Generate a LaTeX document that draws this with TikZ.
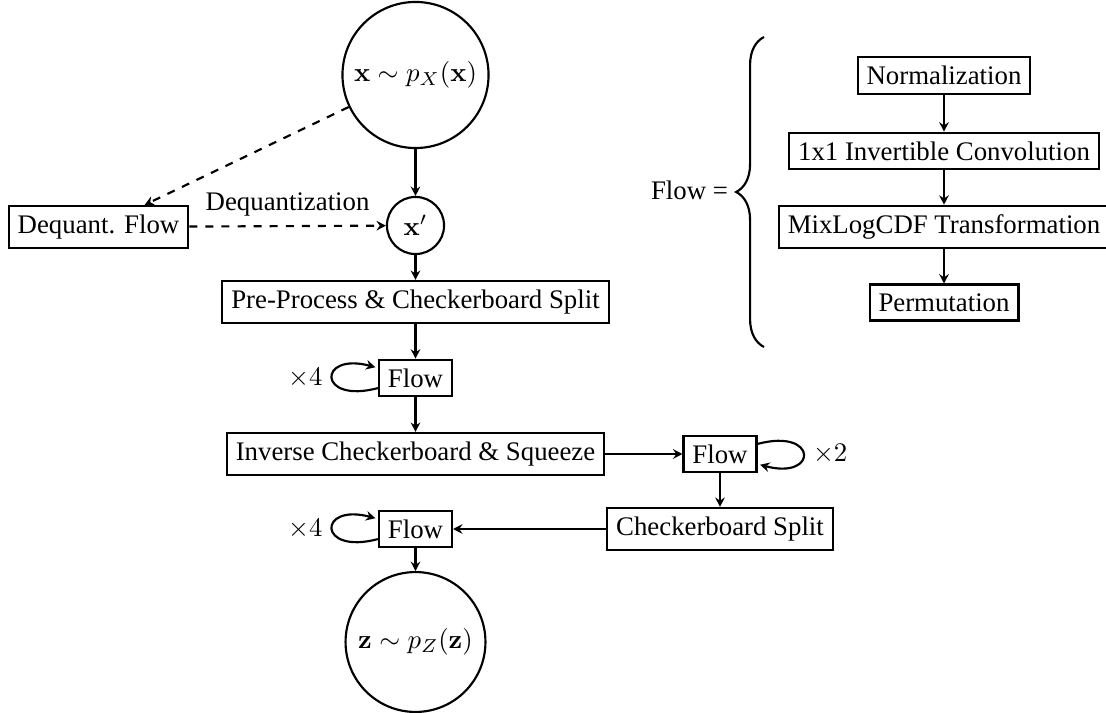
\documentclass[tikz,border=0pt]{standalone}
\usepackage[no-math]{fontspec}
\setmainfont{Liberation Serif}
\usetikzlibrary{decorations.pathreplacing,arrows.meta}
\begin{document}
\begin{tikzpicture}[x=0.37313pt,y=0.37313pt,line width=0.8pt,
  >={Stealth[length=3.5pt,width=3.6pt,inset=1.2pt]},
  box/.style={draw,rectangle,inner sep=0.3333em},
  circ/.style={draw,circle,inner sep=0pt},
  arr/.style={->},
  dasharr/.style={->,dashed}]
\useasboundingbox (0,0) rectangle (1106,-713);
% main column
\node[circ,minimum size=54.5pt] (xp) at (415.5,-75) {$\mathbf{x}\sim p_X(\mathbf{x})$};
\node[circ,minimum size=21.3pt] (xq) at (415.5,-225.5) {$\mathbf{x}'$};
\node[box] (deq) at (98.5,-227) {Dequant. Flow};
\node[box] (pre) at (415.5,-302) {Pre-Process \& Checkerboard Split};
\node[box] (f1) at (415.5,-378) {Flow};
\node[box] (inv) at (415.5,-454) {Inverse Checkerboard \& Squeeze};
\node[box] (f2) at (720,-454) {Flow};
\node[box] (cs) at (720,-529) {Checkerboard Split};
\node[box] (f3) at (415.5,-529) {Flow};
\node[circ,minimum size=52.2pt] (zp) at (415.5,-642) {$\mathbf{z}\sim p_Z(\mathbf{z})$};
% right part
\node[anchor=west,inner sep=0pt] (flowdef) at (650,-190) {Flow =};
\coordinate (bb) at (764,-347);
\coordinate (bt) at (764,-37);
\draw[decorate,decoration={brace,amplitude=10.4pt}] (bb) -- (bt);
\node[box] (norm) at (944,-75.5) {Normalization};
\node[box] (conv) at (944,-151) {1x1 Invertible Convolution};
\node[box] (mix) at (944,-227) {MixLogCDF Transformation};
\node[box] (perm) at (944,-302.5) {Permutation};
% connectors
\draw[arr] (xp) -- (xq);
\draw[dasharr] (xp) -- (deq);
\draw[dasharr] (deq) -- node[midway,above] {Dequantization} (xq);
\draw[arr] (xq) -- (pre);
\draw[arr] (pre) -- (f1);
\draw (f1) edge[->,loop left] node {$\times4$} ();
\draw[arr] (f1) -- (inv);
\draw[arr] (inv) -- (f2);
\draw (f2) edge[->,loop right] node {$\times2$} ();
\draw[arr] (f2) -- (cs);
\draw[arr] (cs) -- (f3);
\draw (f3) edge[->,loop left] node {$\times4$} ();
\draw[arr] (f3) -- (zp);
\draw[arr] (norm) -- (conv);
\draw[arr] (conv) -- (mix);
\draw[arr] (mix) -- (perm);
\end{tikzpicture}
\end{document}
